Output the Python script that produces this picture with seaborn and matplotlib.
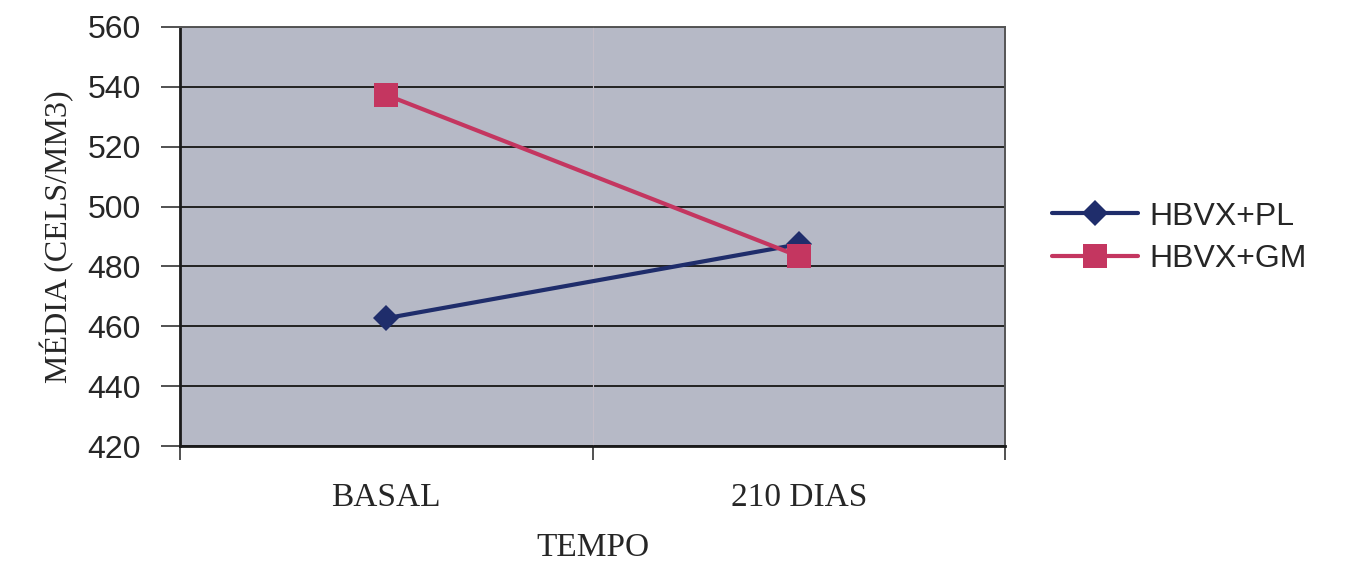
import matplotlib
matplotlib.use("Agg")
import matplotlib.pyplot as plt
import seaborn as sns
import pandas as pd

# ---- data ----
tempo = ["BASAL", "210 DIAS"]
series_names = ["HBVX+PL", "HBVX+GM"]
pl_values = [462.7, 487.4]
gm_values = [537.3, 483.4]
y_ticks = [420, 440, 460, 480, 500, 520, 540, 560]

colors = {"HBVX+PL": "#1f2d6b", "HBVX+GM": "#c43660"}
markers = {"HBVX+PL": "D", "HBVX+GM": "s"}
msizes = {"HBVX+PL": 13, "HBVX+GM": 17}

df = pd.DataFrame({
    "tempo": tempo * 2,
    "valor": pl_values + gm_values,
    "grupo": [series_names[0]] * 2 + [series_names[1]] * 2,
})

sns.set_style("white")
fig = plt.figure(figsize=(13.63, 5.74), dpi=100)
ax = fig.add_axes([180 / 1363, 1 - 446 / 574, 825 / 1363, 419 / 574])
ax.set_facecolor("#b6b9c6")

for i, name in enumerate(series_names):
    sub = df[df["grupo"] == name]
    sns.lineplot(data=sub, x="tempo", y="valor", ax=ax, color=colors[name],
                 marker=markers[name], markersize=msizes[name],
                 markeredgecolor=colors[name], markeredgewidth=0,
                 linewidth=3.0, label=name, zorder=3 + i, sort=False)

ax.set_xlim(-0.5, 1.5)
ax.set_ylim(420, 560)
ax.set_yticks(y_ticks)
ax.set_yticklabels([str(v) for v in y_ticks], family="Liberation Sans", fontsize=23)
ax.yaxis.grid(True, color="#222222", linewidth=1.4)
ax.set_axisbelow(True)

# x: ticks at category boundaries, labels centered on categories
ax.set_xticks([-0.5, 0.5, 1.5])
ax.set_xticklabels(["", "", ""])
ax.set_xticks([0, 1], minor=True)
ax.set_xticklabels(tempo, minor=True, family="Liberation Serif", fontsize=24)
ax.tick_params(axis="x", which="minor", bottom=True, length=0, pad=26)
ax.tick_params(axis="x", which="major", bottom=True, length=10, width=1.2,
               color="#333333", direction="out")
ax.tick_params(axis="y", left=True, length=14, width=1.2, color="#333333",
               direction="out", pad=14)
ax.axvline(0.5, color="#c4bec8", linewidth=0.8, zorder=1)

for s in ["left", "bottom"]:
    ax.spines[s].set_color("#1a1a1a")
    ax.spines[s].set_linewidth(2.0)
for s in ["right", "top"]:
    ax.spines[s].set_color("#555555")
    ax.spines[s].set_linewidth(1.4)

ax.set_xlabel("TEMPO", family="Liberation Serif", fontsize=24, labelpad=14)
ax.set_ylabel("MÉDIA (CELS/MM3)", family="Liberation Serif", fontsize=23, labelpad=10)

leg = ax.legend(loc="center left", bbox_to_anchor=(1052 / 1363, 1 - 238 / 574),
                bbox_transform=fig.transFigure, frameon=False,
                prop={"family": "Liberation Sans", "size": 23},
                handlelength=2.7, handletextpad=0.35, labelspacing=0.4,
                borderpad=0, borderaxespad=0)

fig.savefig("out.png", dpi=100)
